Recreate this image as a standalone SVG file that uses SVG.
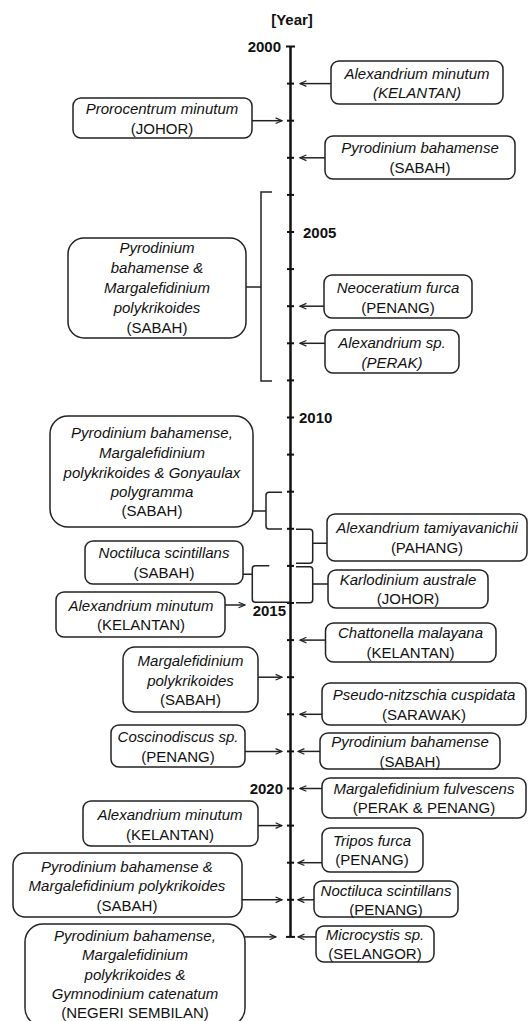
<svg xmlns="http://www.w3.org/2000/svg" width="531" height="1021" viewBox="0 0 531 1021">
<style>
text{font-family:"Liberation Sans",Arial,sans-serif;font-size:15px;fill:#111;text-anchor:middle}
.i{font-style:italic}
.y{font-weight:bold;font-size:15px}
.box{fill:#fff;stroke:#222;stroke-width:1.5}
.ln{fill:none;stroke:#222;stroke-width:1.5}
.ax{fill:none;stroke:#111;stroke-width:2.5}
.tk{fill:none;stroke:#111;stroke-width:2}
</style>
<defs>
<marker id="ah" viewBox="0 0 10 10" refX="9" refY="5" markerWidth="8" markerHeight="8" markerUnits="userSpaceOnUse" orient="auto">
<path d="M1,1.5 L9,5 L1,8.5" fill="none" stroke="#222" stroke-width="1.5"/>
</marker>
</defs>

<g id="axis">
<text class="y" x="292" y="25">[Year]</text>
<line class="ax" x1="290.5" y1="46.5" x2="290.5" y2="937"/>
<g class="tk">
<line x1="286" y1="46.5" x2="295" y2="46.5"/>
<line x1="287" y1="83.6" x2="294" y2="83.6"/>
<line x1="287" y1="120.7" x2="294" y2="120.7"/>
<line x1="287" y1="157.8" x2="294" y2="157.8"/>
<line x1="287" y1="194.9" x2="294" y2="194.9"/>
<line x1="287" y1="232" x2="294" y2="232"/>
<line x1="287" y1="269.1" x2="294" y2="269.1"/>
<line x1="287" y1="306.2" x2="294" y2="306.2"/>
<line x1="287" y1="343.3" x2="294" y2="343.3"/>
<line x1="287" y1="380.4" x2="294" y2="380.4"/>
<line x1="287" y1="417.5" x2="294" y2="417.5"/>
<line x1="287" y1="454.6" x2="294" y2="454.6"/>
<line x1="287" y1="491.7" x2="294" y2="491.7"/>
<line x1="287" y1="528.8" x2="294" y2="528.8"/>
<line x1="287" y1="565.9" x2="294" y2="565.9"/>
<line x1="287" y1="603" x2="294" y2="603"/>
<line x1="287" y1="640.1" x2="294" y2="640.1"/>
<line x1="287" y1="677.2" x2="294" y2="677.2"/>
<line x1="287" y1="714.3" x2="294" y2="714.3"/>
<line x1="287" y1="751.4" x2="294" y2="751.4"/>
<line x1="287" y1="788.5" x2="294" y2="788.5"/>
<line x1="287" y1="825.6" x2="294" y2="825.6"/>
<line x1="287" y1="862.7" x2="294" y2="862.7"/>
<line x1="287" y1="899.8" x2="294" y2="899.8"/>
<line x1="286" y1="936.9" x2="295" y2="936.9"/>
</g>
<text class="y" x="281" y="52" style="text-anchor:end">2000</text>
<text class="y" x="303" y="237.5" style="text-anchor:start">2005</text>
<text class="y" x="299" y="423" style="text-anchor:start">2010</text>
<text class="y" x="286" y="616" style="text-anchor:end">2015</text>
<text class="y" x="283" y="794" style="text-anchor:end">2020</text>
</g>

<g id="connectors">
<line class="ln" x1="331" y1="83.6" x2="300" y2="83.6" marker-end="url(#ah)"/>
<line class="ln" x1="252" y1="120.7" x2="282" y2="120.7" marker-end="url(#ah)"/>
<line class="ln" x1="325" y1="157.8" x2="300" y2="157.8" marker-end="url(#ah)"/>
<path class="ln" d="M272,192 H261 V381 H272 M246,287 H261"/>
<line class="ln" x1="324" y1="306.2" x2="300" y2="306.2" marker-end="url(#ah)"/>
<line class="ln" x1="325" y1="343.3" x2="300" y2="343.3" marker-end="url(#ah)"/>
<path class="ln" d="M282,492.3 H269 Q266,492.3 266,495.3 V526 Q266,529 269,529 H282 M253,511 H266"/>
<path class="ln" d="M296,529.3 H309.7 Q312.7,529.3 312.7,532.3 V560.3 Q312.7,563.3 309.7,563.3 H296 M312.7,543.3 H327"/>
<path class="ln" d="M269.3,565.7 H255.3 Q252.3,565.7 252.3,568.7 V599.3 Q252.3,602.3 255.3,602.3 H290 M243,574.3 H252.3"/>
<path class="ln" d="M296,566.7 H309.7 Q312.7,566.7 312.7,569.7 V599.7 Q312.7,602.7 309.7,602.7 H296 M312.7,584 H328"/>
<line class="ln" x1="225" y1="605" x2="245" y2="605" marker-end="url(#ah)"/>
<line class="ln" x1="325.5" y1="640.1" x2="300" y2="640.1" marker-end="url(#ah)"/>
<line class="ln" x1="258" y1="677.2" x2="282" y2="677.2" marker-end="url(#ah)"/>
<line class="ln" x1="322" y1="714.3" x2="300" y2="714.3" marker-end="url(#ah)"/>
<line class="ln" x1="245" y1="751.4" x2="282" y2="751.4" marker-end="url(#ah)"/>
<line class="ln" x1="320" y1="751.4" x2="298" y2="751.4" marker-end="url(#ah)"/>
<line class="ln" x1="322" y1="788.5" x2="300" y2="788.5" marker-end="url(#ah)"/>
<line class="ln" x1="258" y1="825.6" x2="282" y2="825.6" marker-end="url(#ah)"/>
<line class="ln" x1="322" y1="862.7" x2="298" y2="862.7" marker-end="url(#ah)"/>
<line class="ln" x1="242" y1="899.8" x2="282" y2="899.8" marker-end="url(#ah)"/>
<line class="ln" x1="314" y1="899.8" x2="298" y2="899.8" marker-end="url(#ah)"/>
<line class="ln" x1="316" y1="936.9" x2="298" y2="936.9" marker-end="url(#ah)"/>
<line class="ln" x1="245" y1="936.9" x2="276" y2="936.9" marker-end="url(#ah)"/>
</g>

<g id="n1"><rect class="box" x="331" y="61" width="172" height="43" rx="8"/>
<text class="i" x="417" y="79">Alexandrium minutum</text><text class="i" x="417" y="98">(KELANTAN)</text></g>
<g id="n2"><rect class="box" x="73" y="98" width="179" height="40" rx="8"/>
<text class="i" x="162" y="114">Prorocentrum minutum</text><text x="162" y="134">(JOHOR)</text></g>
<g id="n3"><rect class="box" x="325" y="136" width="190" height="43" rx="8"/>
<text class="i" x="420" y="153">Pyrodinium bahamense</text><text x="420" y="173">(SABAH)</text></g>
<g id="n4"><rect class="box" x="68" y="238" width="178" height="100" rx="16"/>
<text class="i" x="157" y="253">Pyrodinium</text><text class="i" x="157" y="273">bahamense &amp;</text><text class="i" x="157" y="293">Margalefidinium</text><text class="i" x="157" y="313">polykrikoides</text><text x="157" y="333">(SABAH)</text></g>
<g id="n5"><rect class="box" x="324" y="275" width="148" height="43" rx="8"/>
<text class="i" x="398" y="293">Neoceratium furca</text><text x="398" y="313">(PENANG)</text></g>
<g id="n6"><rect class="box" x="325" y="330" width="134" height="43" rx="8"/>
<text class="i" x="392" y="348">Alexandrium sp.</text><text class="i" x="392" y="368">(PERAK)</text></g>
<g id="n7"><rect class="box" x="50" y="416" width="203" height="111" rx="18"/>
<text class="i" x="152" y="438">Pyrodinium bahamense,</text><text class="i" x="152" y="458">Margalefidinium</text><text class="i" x="152" y="478">polykrikoides &amp; Gonyaulax</text><text class="i" x="152" y="497">polygramma</text><text x="152" y="516">(SABAH)</text></g>
<g id="n8"><rect class="box" x="327" y="514" width="200" height="47" rx="8"/>
<text class="i" x="427" y="533">Alexandrium tamiyavanichii</text><text x="427" y="553">(PAHANG)</text></g>
<g id="n9"><rect class="box" x="85" y="541" width="158" height="43" rx="8"/>
<text class="i" x="164" y="558">Noctiluca scintillans</text><text x="164" y="578">(SABAH)</text></g>
<g id="n10"><rect class="box" x="328" y="570" width="160" height="38" rx="8"/>
<text class="i" x="408" y="585">Karlodinium australe</text><text x="408" y="604">(JOHOR)</text></g>
<g id="n11"><rect class="box" x="56" y="592" width="169" height="45" rx="8"/>
<text class="i" x="141" y="611">Alexandrium minutum</text><text x="141" y="630">(KELANTAN)</text></g>
<g id="n12"><rect class="box" x="325.5" y="623" width="170.5" height="39" rx="8"/>
<text class="i" x="410.5" y="638">Chattonella malayana</text><text x="410.5" y="658">(KELANTAN)</text></g>
<g id="n13"><rect class="box" x="123" y="647" width="135" height="65" rx="12"/>
<text class="i" x="190.5" y="666">Margalefidinium</text><text class="i" x="190.5" y="686">polykrikoides</text><text x="190.5" y="705">(SABAH)</text></g>
<g id="n14"><rect class="box" x="322" y="683" width="204" height="42" rx="8"/>
<text class="i" x="424" y="700">Pseudo-nitzschia cuspidata</text><text x="424" y="720">(SARAWAK)</text></g>
<g id="n15"><rect class="box" x="111" y="725" width="134" height="42" rx="8"/>
<text class="i" x="178" y="742">Coscinodiscus sp.</text><text x="178" y="762">(PENANG)</text></g>
<g id="n16"><rect class="box" x="320" y="733" width="180" height="36" rx="8"/>
<text class="i" x="410" y="747">Pyrodinium bahamense</text><text x="410" y="767">(SABAH)</text></g>
<g id="n17"><rect class="box" x="322" y="778" width="204" height="40" rx="8"/>
<text class="i" x="424" y="794">Margalefidinium fulvescens</text><text x="424" y="813">(PERAK &amp; PENANG)</text></g>
<g id="n18"><rect class="box" x="83" y="801" width="175" height="45" rx="8"/>
<text class="i" x="170" y="820">Alexandrium minutum</text><text x="170" y="840">(KELANTAN)</text></g>
<g id="n19"><rect class="box" x="322" y="828" width="101" height="44" rx="8"/>
<text class="i" x="372" y="846">Tripos furca</text><text x="372" y="865">(PENANG)</text></g>
<g id="n20"><rect class="box" x="13" y="853" width="229" height="64" rx="12"/>
<text class="i" x="127" y="872">Pyrodinium bahamense &amp;</text><text class="i" x="127" y="891">Margalefidinium polykrikoides</text><text x="127" y="911">(SABAH)</text></g>
<g id="n21"><rect class="box" x="314" y="881" width="144" height="36" rx="8"/>
<text class="i" x="386" y="896">Noctiluca scintillans</text><text x="386" y="915">(PENANG)</text></g>
<g id="n22"><rect class="box" x="316" y="926" width="118" height="36" rx="8"/>
<text class="i" x="375" y="940">Microcystis sp.</text><text x="375" y="959">(SELANGOR)</text></g>
<g id="n23"><rect class="box" x="25" y="924" width="220" height="102" rx="18"/>
<text class="i" x="135" y="941">Pyrodinium bahamense,</text><text class="i" x="135" y="960">Margalefidinium</text><text class="i" x="135" y="980">polykrikoides &amp;</text><text class="i" x="135" y="999">Gymnodinium catenatum</text><text x="135" y="1018">(NEGERI SEMBILAN)</text></g>
</svg>
